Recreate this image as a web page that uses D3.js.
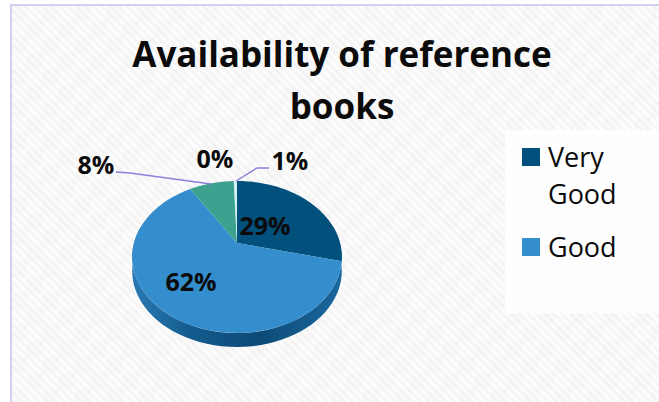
<!DOCTYPE html>
<html><head><meta charset="utf-8">
<script src="https://cdn.jsdelivr.net/npm/d3@7"></script>
<style>html,body{margin:0;padding:0;background:#fff}svg{display:block}text{font-family:"Open Sans",Lato,sans-serif;fill:#0b0b0b}</style>
</head><body><svg id="c" width="659" height="402"></svg>
<script>
const titleLines = ["Availability of reference", "books"];
const legendLabels = [["Very", "Good"], ["Good"]];
const sliceValues = [28.8, 62.4, 8.2, 0.1, 0.5];
const sliceLabels = ["29%", "62%", "8%", "0%", "1%"];
const sliceColors = ["#02507c", "#348dcd", "#3ca28f", "#9fd8d8", "#d5f2f2"];
const labelPos = [[265,226],[191,282],[96,165],[215,159],[290,161]];
const leaders = [[[116,172],[130,173],[211,184]], [[269,168],[257,168],[236,181]]];

const svg = d3.select("#c");
const defs = svg.append("defs");
const pat = defs.append("pattern").attr("id","hatch").attr("width",6).attr("height",6)
  .attr("patternUnits","userSpaceOnUse").attr("patternTransform","rotate(-45)");
pat.append("rect").attr("width",6).attr("height",6).attr("fill","#fdfdfd");
pat.append("rect").attr("width",3).attr("height",6).attr("fill","#f6f6f6");
const chk = defs.append("pattern").attr("id","check").attr("width",32).attr("height",32)
  .attr("patternUnits","userSpaceOnUse").attr("x",11).attr("y",5);
chk.append("rect").attr("width",16).attr("height",16).attr("fill","#000").attr("fill-opacity",0.012);
chk.append("rect").attr("x",16).attr("y",16).attr("width",16).attr("height",16).attr("fill","#000").attr("fill-opacity",0.012);
const side = defs.append("linearGradient").attr("id","side");
[["0%","#2a79b2"],["30%","#125a8d"],["60%","#0d4a76"],["100%","#1a689f"]].forEach(s=>side.append("stop").attr("offset",s[0]).attr("stop-color",s[1]));

svg.append("rect").attr("width",659).attr("height",402).attr("fill","url(#hatch)");
svg.append("rect").attr("width",659).attr("height",402).attr("fill","url(#check)");
svg.append("rect").attr("x",0).attr("y",0).attr("width",659).attr("height",4).attr("fill","#fff");
svg.append("rect").attr("x",0).attr("y",0).attr("width",10).attr("height",402).attr("fill","#fff");
svg.append("path").attr("d","M11,402V5H659").attr("fill","none").attr("stroke","#d4d0f0").attr("stroke-width",2);
svg.append("rect").attr("x",505).attr("y",130).attr("width",154).attr("height",183).attr("fill","#fefefe");

// tilted disc: perspective projection of the unit circle
const cx = 237, cy = 243, R = 103, S = 73.4, k = 0.184, depth = 14;
const proj = (a, r=1) => {
  const x = r*Math.sin(a), y = r*Math.cos(a), w = 1/(1+k*y);
  return [cx + R*x*w, cy - S*y*w];
};
const arcs = d3.pie().sort(null).value(d=>d)(sliceValues);
const rim = (a0, a1, dy=0) => d3.range(0, 61).map(i => {
  const p = proj(a0 + (a1-a0)*i/60); return [p[0], p[1]+dy];
});
const line = d3.line();
// extruded side
const front = rim(Math.PI/2 - 0.25, Math.PI*1.5 + 0.25);
svg.append("path").attr("d", line(front.concat(rim(Math.PI*1.5 + 0.25, Math.PI/2 - 0.25, depth))) + "Z")
  .attr("fill","url(#side)");
// top face
svg.append("g").selectAll("path").data(arcs).join("path")
  .attr("d", d => line([[cx,cy]].concat(rim(d.startAngle, d.endAngle))) + "Z")
  .attr("fill", (d,i) => sliceColors[i]);
// leader lines
svg.append("g").selectAll("path").data(leaders).join("path")
  .attr("d", d3.line()).attr("fill","none").attr("stroke","#8a80dc").attr("stroke-width",1.3);
// slice labels
svg.append("g").selectAll("text").data(sliceLabels).join("text")
  .attr("x",(d,i)=>labelPos[i][0]).attr("y",(d,i)=>labelPos[i][1]+9)
  .attr("text-anchor","middle").attr("font-size",25).attr("font-weight",700).text(d=>d);
// title
svg.append("g").selectAll("text").data(titleLines).join("text")
  .attr("x",342).attr("y",(d,i)=>67+i*52).attr("text-anchor","middle")
  .attr("font-size",35).attr("font-weight",700).text(d=>d);
// legend
const lg = svg.append("g");
const ly = d3.scalePoint().domain([0,1]).range([157,247]);
legendLabels.forEach((lines,i)=>{
  lg.append("rect").attr("x",522).attr("y",ly(i)-9).attr("width",18).attr("height",18).attr("fill",sliceColors[i]);
  lines.forEach((t,j)=>lg.append("text").attr("x",548).attr("y",ly(i)+10+j*37).attr("font-size",27).text(t));
});
</script></body></html>
